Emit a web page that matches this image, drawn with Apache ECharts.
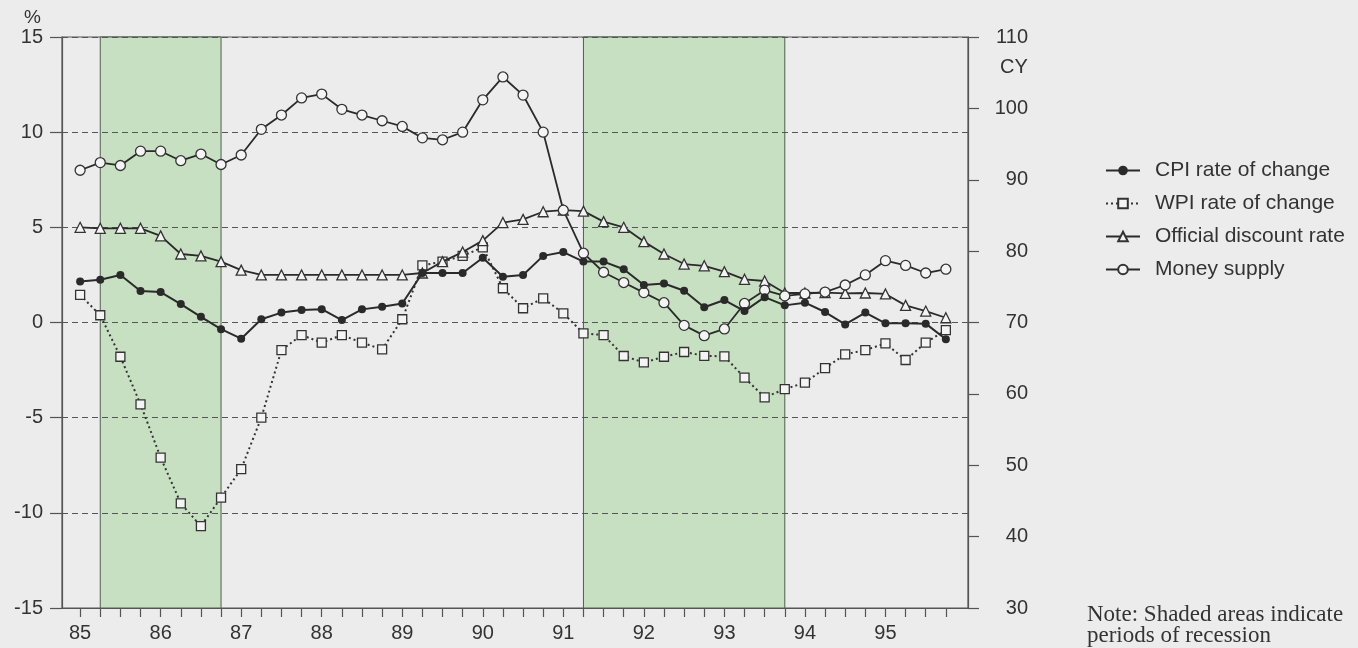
<!DOCTYPE html>
<html><head><meta charset="utf-8">
<script src="https://cdn.jsdelivr.net/npm/echarts@6/dist/echarts.min.js"></script>
<style>html,body{margin:0;padding:0;background:#ececec}#c{width:1358px;height:648px}</style>
</head><body><div id="c"></div>
<script>
// Year tick labels (one per Q1) and quarterly categories 85Q1..95Q4
const years = ['85','86','87','88','89','90','91','92','93','94','95'];
const quarters = years.flatMap(y => [y + 'Q1', y + 'Q2', y + 'Q3', y + 'Q4']);

// Series values (%), one per quarter
const cpi = [2.15, 2.25, 2.5, 1.65, 1.6, 0.97, 0.3, -0.35, -0.85, 0.17, 0.52, 0.66,
  0.7, 0.13, 0.69, 0.83, 1.0, 2.6, 2.6, 2.6, 3.4, 2.4, 2.5, 3.5,
  3.7, 3.2, 3.2, 2.8, 1.97, 2.05, 1.67, 0.8, 1.18, 0.6, 1.33, 0.9,
  1.04, 0.55, -0.1, 0.52, -0.04, -0.04, -0.06, -0.88];
const wpi = [1.45, 0.38, -1.8, -4.3, -7.1, -9.5, -10.7, -9.2, -7.7, -5.0, -1.45, -0.66,
  -1.06, -0.66, -1.06, -1.41, 0.17, 3.0, 3.2, 3.5, 3.95, 1.8, 0.75, 1.27,
  0.48, -0.57, -0.66, -1.76, -2.1, -1.8, -1.55, -1.75, -1.78, -2.9, -3.93, -3.5,
  -3.16, -2.4, -1.67, -1.45, -1.1, -1.97, -1.06, -0.4];
const odr = [5.0, 4.95, 4.95, 4.95, 4.55, 3.6, 3.5, 3.2, 2.75, 2.5, 2.5, 2.5,
  2.5, 2.5, 2.5, 2.5, 2.5, 2.6, 3.2, 3.7, 4.3, 5.25, 5.42, 5.82,
  5.9, 5.85, 5.3, 5.0, 4.25, 3.6, 3.07, 2.98, 2.67, 2.27, 2.18, 1.55,
  1.55, 1.57, 1.53, 1.55, 1.5, 0.9, 0.6, 0.25];
const money = [8.0, 8.4, 8.25, 9.0, 9.0, 8.5, 8.85, 8.3, 8.8, 10.15, 10.9, 11.8,
  12.0, 11.2, 10.9, 10.6, 10.3, 9.7, 9.6, 10.0, 11.7, 12.9, 11.95, 10.0,
  5.9, 3.64, 2.64, 2.1, 1.57, 1.04, -0.15, -0.69, -0.34, 1.0, 1.7, 1.4,
  1.5, 1.6, 1.97, 2.5, 3.25, 3.0, 2.6, 2.8];

// Recession periods (start quarter, end quarter)
const recessions = [['85Q2', '86Q4'], ['91Q2', '93Q4']];

const seriesNames = ['CPI rate of change', 'WPI rate of change', 'Official discount rate', 'Money supply'];

const pairs = arr => arr.map((v, i) => [i, v]);
const qi = q => quarters.indexOf(q);
const tickIdx = quarters.map((q, i) => i);
const labelIdx = years.map(y => qi(y + 'Q1'));

const FONT = 'Liberation Sans';
const ink = '#2a2a2a';
const hollow = '#f4f4f4';

const chart = echarts.init(document.getElementById('c'));
chart.setOption({
  animation: false,
  backgroundColor: '#ececec',
  grid: { left: 62, right: 390, top: 37, bottom: 40, show: true, borderColor: '#555', borderWidth: 1.2, backgroundColor: 'transparent' },
  xAxis: {
    type: 'value', min: -0.9, max: 44.1,
    axisLine: { show: true, onZero: false, lineStyle: { color: '#555', width: 1.2 } },
    axisTick: { show: true, customValues: tickIdx, length: 9, lineStyle: { color: '#555', width: 1.2 } },
    axisLabel: { customValues: labelIdx, formatter: v => years[labelIdx.indexOf(v)], fontSize: 20, color: '#333', fontFamily: FONT, margin: 15 },
    splitLine: { show: false }
  },
  yAxis: [{
    type: 'value', min: -15, max: 15, interval: 5, position: 'left', z: 1.5,
    axisLine: { show: true, onZero: false, lineStyle: { color: '#555', width: 1.2 } },
    axisTick: { show: true, length: 12, lineStyle: { color: '#555', width: 1.2 } },
    axisLabel: { fontSize: 20, color: '#333', fontFamily: FONT, margin: 19 },
    splitLine: { show: true, lineStyle: { color: '#555', width: 1, type: [6, 4] } }
  }, {
    type: 'value', min: 30, max: 110, interval: 10, position: 'right',
    axisLine: { show: true, onZero: false, lineStyle: { color: '#555', width: 1.2 } },
    axisTick: { show: true, length: 11, lineStyle: { color: '#555', width: 1.2 } },
    axisLabel: { fontSize: 20, color: '#333', fontFamily: FONT, margin: 60, align: 'right' },
    splitLine: { show: false }
  }],
  legend: {
    data: seriesNames, orient: 'vertical', left: 1100, top: 155,
    itemWidth: 34, itemHeight: 12, itemGap: 12,
    textStyle: { fontSize: 21, color: '#333', fontFamily: FONT, padding: [0, 0, 0, 10] }
  },
  graphic: [
    { type: 'text', left: 24, top: 8, style: { text: '%', font: '19px "Liberation Sans"', fill: '#333' } },
    { type: 'text', left: 1000, top: 57, style: { text: 'CY', font: '20px "Liberation Sans"', fill: '#333' } },
    { type: 'text', left: 1087, top: 603, style: { text: 'Note: Shaded areas indicate\nperiods of recession', font: '23px "Liberation Serif"', lineHeight: 21, fill: '#333' } }
  ],
  series: [{
    name: seriesNames[0], type: 'line', data: pairs(cpi),
    symbol: 'circle', symbolSize: 8, z: 5,
    itemStyle: { color: ink }, lineStyle: { color: ink, width: 2 },
    markArea: {
      silent: true,
      itemStyle: { color: '#c8e0c2', borderColor: '#4f604f', borderWidth: 1 },
      data: recessions.map(r => [{ xAxis: qi(r[0]) }, { xAxis: qi(r[1]) }])
    }
  }, {
    name: seriesNames[1], type: 'line', data: pairs(wpi),
    symbol: 'rect', symbolSize: 9, z: 3,
    itemStyle: { color: hollow, borderColor: '#333', borderWidth: 1.3 },
    lineStyle: { color: '#333', width: 2, type: [2, 3] }
  }, {
    name: seriesNames[2], type: 'line', data: pairs(odr),
    symbol: 'triangle', symbolSize: 10, z: 4,
    itemStyle: { color: hollow, borderColor: '#333', borderWidth: 1.3 },
    lineStyle: { color: ink, width: 1.8 }
  }, {
    name: seriesNames[3], type: 'line', data: pairs(money),
    symbol: 'circle', symbolSize: 10, z: 4,
    itemStyle: { color: hollow, borderColor: '#333', borderWidth: 1.3 },
    lineStyle: { color: ink, width: 1.8 }
  }]
});
</script></body></html>
